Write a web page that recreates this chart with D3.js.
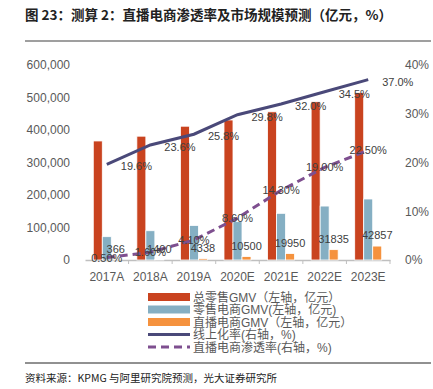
<!DOCTYPE html>
<html>
<head>
<meta charset="utf-8">
<script src="https://cdn.jsdelivr.net/npm/d3@7"></script>
<style>
  body { margin: 0; background: #fff; }
  svg { display: block; font-family: "Liberation Sans", "Noto Sans CJK SC", sans-serif; }
</style>
</head>
<body>
<div id="viz"></div>
<script>
const categories = ['2017A', '2018A', '2019A', '2020E', '2021E', '2022E', '2023E'];
const totalRetail = [366262, 380987, 411649, 430800, 456000, 487000, 515000];
const onlineRetail = [71751, 90065, 106324, 118000, 143600, 166000, 187700];
const liveCommerce = [366, 1400, 4338, 10500, 19950, 31835, 42857];
const onlineRate = [19.6, 23.6, 25.8, 29.8, 32.0, 34.5, 37.0];
const liveRate = [0.5, 1.6, 4.1, 8.6, 14.3, 19.0, 22.5];
const leftTicks = [0, 100000, 200000, 300000, 400000, 500000, 600000];
const rightTicks = [0, 10, 20, 30, 40];

const barSeries = [
  { name: '总零售GMV（左轴，亿元）', values: totalRetail, color: '#c9431f' },
  { name: '零售电商GMV(左轴，亿元)', values: onlineRetail, color: '#85afc3' },
  { name: '直播电商GMV（左轴，亿元）', values: liveCommerce, color: '#f5923e' }
];
const lineSeries = [
  { name: '线上化率(右轴，%)', values: onlineRate, color: '#4a4979', dash: null, fmt: d => d.toFixed(1) + '%' },
  { name: '直播电商渗透率(右轴，%)', values: liveRate, color: '#7e4f8f', dash: '8,5', fmt: d => d.toFixed(2) + '%' }
];

const WIDTH = 433;
const HEIGHT = 389;
const PLOT = { left: 85, right: 390, top: 65, bottom: 260 };

const svg = d3.select('#viz').append('svg')
  .attr('width', WIDTH)
  .attr('height', HEIGHT);

// title
svg.append('text')
  .attr('x', 25).attr('y', 20)
  .attr('font-family', '"Noto Sans CJK SC", sans-serif')
  .attr('font-size', 13.5).attr('font-weight', 'bold').attr('fill', '#222')
  .text('图 23：测算 2：直播电商渗透率及市场规模预测（亿元，%）');
svg.append('line')
  .attr('x1', 25).attr('x2', 431).attr('y1', 41).attr('y2', 41)
  .attr('stroke', '#7f7f7f').attr('stroke-width', 1.5);

const x = d3.scaleBand()
  .domain(categories)
  .range([PLOT.left, PLOT.right])
  .paddingInner(0.38)
  .paddingOuter(0.19);
const xFull = d3.scaleBand().domain(categories).range([PLOT.left, PLOT.right]);
const x1 = d3.scaleBand().domain(d3.range(barSeries.length)).range([0, x.bandwidth()]);
const yLeft = d3.scaleLinear().domain([0, 600000]).range([PLOT.bottom, PLOT.top]);
const yRight = d3.scaleLinear().domain([0, 40]).range([PLOT.bottom, PLOT.top]);

// axes
const axisColor = '#595959';
const gl = svg.append('g')
  .attr('transform', `translate(${PLOT.left - 12},0)`)
  .call(d3.axisLeft(yLeft).tickValues(leftTicks).tickSize(0).tickFormat(d3.format(',')));
const gr = svg.append('g')
  .attr('transform', `translate(${PLOT.right + 12},0)`)
  .call(d3.axisRight(yRight).tickValues(rightTicks).tickSize(0).tickFormat(d => d + '%'));
[gl, gr].forEach(g => {
  g.select('.domain').remove();
  g.selectAll('text').attr('font-size', 12).attr('fill', axisColor)
    .attr('font-family', '"Liberation Sans", sans-serif');
});

const gx = svg.append('g')
  .attr('transform', `translate(0,${PLOT.bottom})`)
  .call(d3.axisBottom(xFull).tickSize(0).tickPadding(12));
gx.select('.domain').attr('stroke', '#bfbfbf').attr('stroke-width', 1.5);
gx.selectAll('text').attr('font-size', 12).attr('fill', axisColor)
  .attr('font-family', '"Liberation Sans", sans-serif');
gx.selectAll('.sep')
  .data(categories.slice(1).concat(['end']))
  .join('line')
  .attr('class', 'sep')
  .attr('x1', (d, i) => PLOT.left + (i + 1) * xFull.step())
  .attr('x2', (d, i) => PLOT.left + (i + 1) * xFull.step())
  .attr('y1', 0).attr('y2', 4)
  .attr('stroke', '#bfbfbf').attr('stroke-width', 1);

// bars
const groups = svg.append('g').attr('class', 'bars')
  .selectAll('g')
  .data(barSeries)
  .join('g')
  .attr('fill', d => d.color);
groups.selectAll('rect')
  .data((s, si) => s.values.map((v, i) => ({ v, cat: categories[i], si })))
  .join('rect')
  .attr('x', d => x(d.cat) + x1(d.si))
  .attr('width', x1.bandwidth())
  .attr('y', d => yLeft(d.v))
  .attr('height', d => yLeft(0) - yLeft(d.v))
  .attr('stroke', '#fff')
  .attr('stroke-width', 0.8);

// lines
const cx = c => x(c) + x.bandwidth() / 2;
lineSeries.forEach(s => {
  const line = d3.line()
    .x((d, i) => cx(categories[i]))
    .y(d => yRight(d));
  svg.append('path')
    .datum(s.values)
    .attr('fill', 'none')
    .attr('stroke', s.color)
    .attr('stroke-width', 3)
    .attr('stroke-dasharray', s.dash)
    .attr('d', line);
});

// labels
const labelColor = '#404040';
const labels = svg.append('g')
  .attr('font-size', 11)
  .attr('fill', labelColor)
  .attr('font-family', '"Liberation Sans", sans-serif');
labels.selectAll('.live')
  .data(liveCommerce)
  .join('text')
  .attr('class', 'live')
  .attr('text-anchor', 'middle')
  .attr('x', (d, i) => x(categories[i]) + x1(2) + x1.bandwidth() / 2)
  .attr('y', d => yLeft(d) - 7)
  .text(d => d);
labels.selectAll('.online')
  .data(onlineRate)
  .join('text')
  .attr('class', 'online')
  .attr('x', (d, i) => cx(categories[i]) + 14)
  .attr('y', d => yRight(d) + 6)
  .text(lineSeries[0].fmt);
labels.selectAll('.rate')
  .data(liveRate)
  .join('text')
  .attr('class', 'rate')
  .attr('text-anchor', 'middle')
  .attr('x', (d, i) => cx(categories[i]))
  .attr('y', d => yRight(d) + 4)
  .text(lineSeries[1].fmt);

// legend
const legend = svg.append('g').attr('transform', 'translate(148,297)');
const items = barSeries.map(d => ({ ...d, type: 'bar' }))
  .concat(lineSeries.map(d => ({ ...d, type: 'line' })));
const row = legend.selectAll('g')
  .data(items)
  .join('g')
  .attr('transform', (d, i) => `translate(0,${i * 12.5})`);
row.filter(d => d.type === 'bar').append('rect')
  .attr('x', 0).attr('y', -4).attr('width', 42).attr('height', 8)
  .attr('fill', d => d.color);
row.filter(d => d.type === 'line').append('line')
  .attr('x1', 0).attr('x2', 42).attr('y1', 0).attr('y2', 0)
  .attr('stroke', d => d.color).attr('stroke-width', 3)
  .attr('stroke-dasharray', d => d.dash);
row.append('text')
  .attr('x', 45).attr('y', 4.5)
  .attr('font-size', 12).attr('fill', axisColor)
  .text(d => d.name);

// footer
svg.append('line')
  .attr('x1', 25).attr('x2', 431).attr('y1', 363).attr('y2', 363)
  .attr('stroke', '#222').attr('stroke-width', 1);
svg.append('text')
  .attr('x', 25).attr('y', 382)
  .attr('font-family', '"Noto Sans CJK SC", sans-serif')
  .attr('font-size', 10.5).attr('fill', '#222')
  .text('资料来源：KPMG 与阿里研究院预测，光大证券研究所');
</script>
</body>
</html>
